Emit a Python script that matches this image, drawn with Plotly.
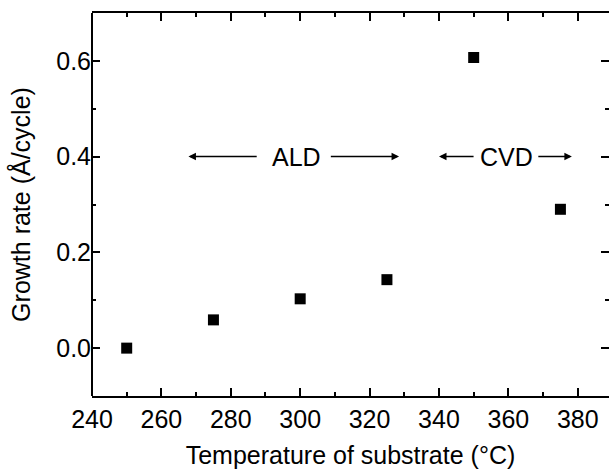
import plotly.graph_objects as go

temperature = [250, 275, 300, 325, 350, 375]
growth_rate = [0.0, 0.059, 0.103, 0.143, 0.607, 0.290]

x_ticks = [240, 260, 280, 300, 320, 340, 360, 380]
y_ticks = [0.0, 0.2, 0.4, 0.6]

region_labels = ["ALD", "CVD"]
region_label_x = [299.0, 359.6]
region_label_y = [0.40, 0.40]
# arrows: (tail_x, head_x)
arrow_tails = [287.9, 308.4, 350.4, 368.2]
arrow_heads = [267.8, 328.5, 340.0, 378.3]
arrow_y = 0.40

FONT = "Liberation Sans, Arial, sans-serif"

fig = go.Figure()
fig.add_trace(go.Scatter(
    x=temperature, y=growth_rate, mode="markers",
    marker=dict(symbol="square", size=11, color="black"),
    showlegend=False,
))

for lbl, lx, ly in zip(region_labels, region_label_x, region_label_y):
    fig.add_annotation(x=lx, y=ly, xref="x", yref="y", text=lbl, showarrow=False,
                       font=dict(family=FONT, size=25, color="black"))

for t, h in zip(arrow_tails, arrow_heads):
    fig.add_annotation(x=h, y=arrow_y, ax=t, ay=arrow_y, xref="x", yref="y",
                       axref="x", ayref="y", text="", showarrow=True,
                       arrowhead=2, arrowsize=1.0, arrowwidth=1.5,
                       arrowcolor="black", standoff=0, startstandoff=0)

tick_common = dict(
    ticks="inside", ticklen=8, tickwidth=1.7, tickcolor="black",
    mirror="ticks", showgrid=False, zeroline=False,
    tickfont=dict(family=FONT, size=25, color="black"),
)

fig.update_xaxes(
    **tick_common,
    showline=True, linecolor="black", linewidth=2,
    range=[240, 389], tickvals=x_ticks, ticklabelstandoff=0,
    minor=dict(ticks="inside", ticklen=4, tickwidth=1.7, tickcolor="black", dtick=10, tick0=240),
    title=dict(text="Temperature of substrate (°C)", font=dict(family=FONT, size=25, color="black"), standoff=14),
)
fig.update_yaxes(
    **tick_common,
    showline=False,
    range=[-0.1, 0.7], tickvals=y_ticks, tickformat=".1f",
    minor=dict(ticks="inside", ticklen=4, tickwidth=1.7, tickcolor="black", dtick=0.1, tick0=0),
    title=dict(text="Growth rate (Å/cycle)", font=dict(family=FONT, size=25, color="black"), standoff=18),
)

# left axis line only (right edge of the frame falls outside the picture)
fig.add_shape(type="line", xref="paper", yref="paper", x0=0, x1=0, y0=0, y1=1,
              line=dict(color="black", width=2))

fig.update_layout(
    width=609, height=473,
    margin=dict(l=92, r=0, t=13, b=77, autoexpand=False),
    plot_bgcolor="white", paper_bgcolor="white",
)

fig.write_html("out.html")
